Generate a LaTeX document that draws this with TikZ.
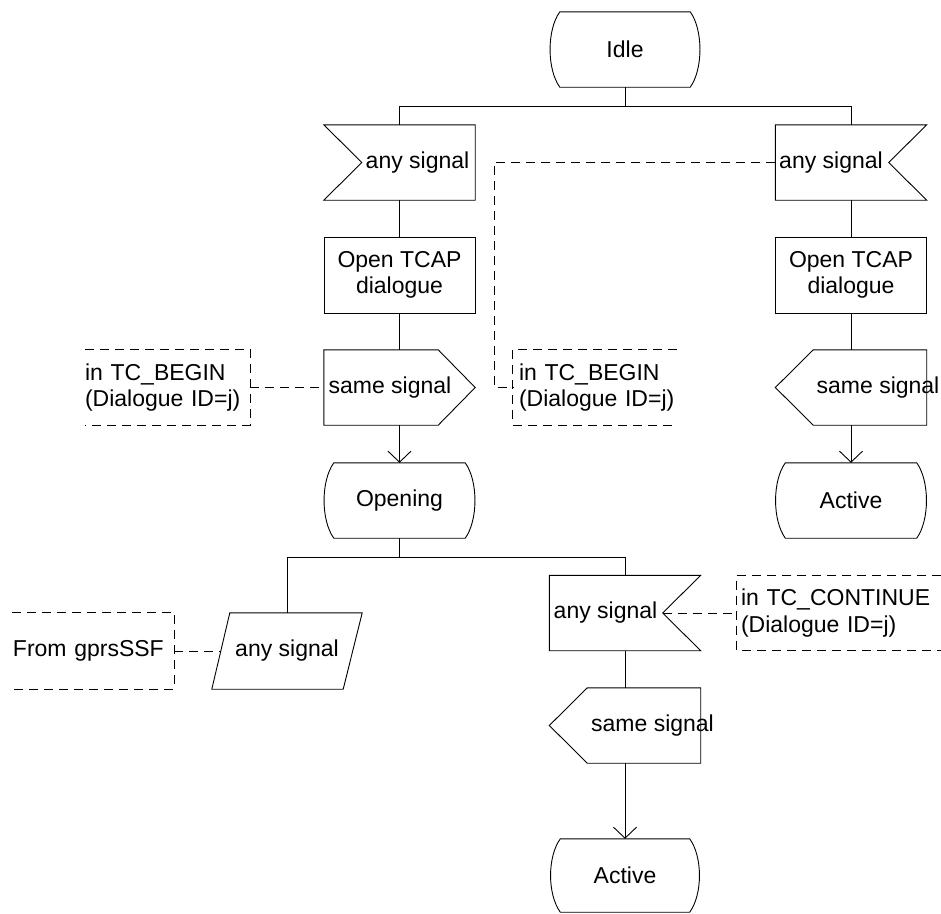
\documentclass[tikz,border=0pt]{standalone}
\usepackage{fontspec}
\setmainfont{Liberation Sans}
\usetikzlibrary{calc,arrows.meta}
\newcommand\sdlstate[1]{\draw[line] ($(#1.north west)+(10,0)$) -- ($(#1.north east)+(-10,0)$) .. controls ($(#1.north east)+(3,18)$) and ($(#1.south east)+(3,-18)$) .. ($(#1.south east)+(-10,0)$) -- ($(#1.south west)+(10,0)$) .. controls ($(#1.south west)+(-3,-18)$) and ($(#1.north west)+(-3,18)$) .. cycle;}
\newcommand\sdlinL[1]{\draw[line] (#1.north west) -- (#1.north east) -- (#1.south east) -- (#1.south west) -- ($(#1.west)+(38,0)$) -- cycle;}
\newcommand\sdlinR[1]{\draw[line] (#1.north west) -- (#1.north east) -- ($(#1.east)+(-38,0)$) -- (#1.south east) -- (#1.south west) -- cycle;}
\newcommand\sdloutR[1]{\draw[line] (#1.north west) -- ($(#1.north east)+(-37,0)$) -- (#1.east) -- ($(#1.south east)+(-37,0)$) -- (#1.south west) -- cycle;}
\newcommand\sdloutL[1]{\draw[line] (#1.north east) -- (#1.south east) -- ($(#1.south west)+(38,0)$) -- (#1.west) -- ($(#1.north west)+(38,0)$) -- cycle;}
\begin{document}
\begin{tikzpicture}[x=1pt,y=-1pt,
  every node/.style={font=\fontsize{23}{26.5}\selectfont, inner sep=0pt},
  line/.style={draw=black, line width=0.9pt},
  cline/.style={draw=black, line width=0.9pt, dash pattern=on 9pt off 6pt},
  arr/.style={line, -{Straight Barb[length=11pt,width=23pt]}},
  shapebox/.style={minimum width=151pt, minimum height=75pt},
  cmt/.style={align=left, minimum height=75pt},
]
\useasboundingbox (0,0) rectangle (941,913);

% ---- top part
\node[shapebox, minimum width=150pt] (idle) at (625,49.5) {Idle};
\coordinate (br1) at (625,106);

\node[shapebox] (in1) at (399.5,162.5) {};
\node (in1t) at (417.5,162.5) {any signal};
\node[shapebox] (in2) at (851,162.5) {};
\node (in2t) at (831,162.5) {any signal};

\node[shapebox, minimum height=76pt, align=center, line] (task1) at (399.5,275) {Open TCAP\\dialogue};
\node[shapebox, minimum height=76pt, align=center, line] (task2) at (851,275) {Open TCAP\\dialogue};

\node[shapebox] (out1) at (399.5,387.5) {};
\node (out1t) at (390,388) {same signal};
\node[shapebox] (out2) at (851,387.5) {};
\node (out2t) at (878,388) {same signal};

\node[cmt, text width=165pt] (cmt1) at (167.5,387.5) {in TC\_BEGIN\\(Dialogue ID=j)};
\node[cmt, text width=164pt] (cmt2) at (595,387.5) {\hspace*{6pt}in TC\_BEGIN\\\hspace*{6pt}(Dialogue ID=j)};
\coordinate (c2k) at (494,387.5);

\node[shapebox] (opening) at (399.5,500.5) {Opening};
\node[shapebox] (active1) at (851,500.5) {Active};

% ---- lower part
\coordinate (br2) at (399.5,557);
\node[minimum width=150pt, minimum height=76pt] (par) at (287,651) {any signal};
\node[cmt, text width=162pt, minimum height=76pt] (cmt3) at (93,651) {\hspace*{1pt}From gprsSSF};

\node[shapebox] (in3) at (625,613) {};
\node (in3t) at (605.5,613) {any signal};
\node[cmt, text width=204pt] (cmt4) at (839,613) {\hspace*{4pt}in TC\_CONTINUE\\\hspace*{4pt}(Dialogue ID=j)};

\node[shapebox] (out3) at (625,725.5) {};
\node (out3t) at (652.5,726) {same signal};
\node[shapebox, minimum width=149pt, minimum height=73pt] (active2) at (625,875.5) {Active};

% ---- outlines
\sdlstate{idle}
\sdlstate{opening}
\sdlstate{active1}
\sdlstate{active2}
\sdlinL{in1}
\sdlinR{in2}
\sdlinR{in3}
\sdloutR{out1}
\sdloutL{out2}
\sdloutL{out3}
\draw[line] ($(par.north west)+(18,0)$) -- (par.north east) -- ($(par.south east)+(-19,0)$) -- (par.south west) -- cycle;

% comment brackets
\draw[cline] (cmt1.north west) -- (cmt1.north east) -- (cmt1.south east) -- (cmt1.south west);
\draw[cline] (cmt2.north east) -- (cmt2.north west) -- (cmt2.south west) -- (cmt2.south east);
\draw[cline] (cmt3.north west) -- (cmt3.north east) -- (cmt3.south east) -- (cmt3.south west);
\draw[cline] (cmt4.north east) -- (cmt4.north west) -- (cmt4.south west) -- (cmt4.south east);

% ---- connectors
\draw[line] (idle.south) -- (br1);
\draw[line] (br1) -| (in1.north);
\draw[line] (br1) -| (in2.north);
\draw[line] (in1.south) -- (task1.north);
\draw[line] (in2.south) -- (task2.north);
\draw[line] (task1.south) -- (out1.north);
\draw[line] (task2.south) -- (out2.north);
\draw[arr] (out1.south) -- (opening.north);
\draw[arr] (out2.south) -- (active1.north);
\draw[line] (opening.south) -- (br2);
\draw[line] (br2) -| (par.north);
\draw[line] (br2) -| (in3.north);
\draw[line] (in3.south) -- (out3.north);
\draw[arr] (out3.south) -- (active2.north);

% dashed comment connectors
\draw[cline] (cmt1.east) -- (out1.west);
\draw[cline] (in2.west) -| (c2k) -- (cmt2.west);
\draw[cline] (cmt3.east) -- ($(par.west)+(9,0)$);
\draw[cline] ($(in3.east)+(-38,0)$) -- (cmt4.west);
\end{tikzpicture}
\end{document}
